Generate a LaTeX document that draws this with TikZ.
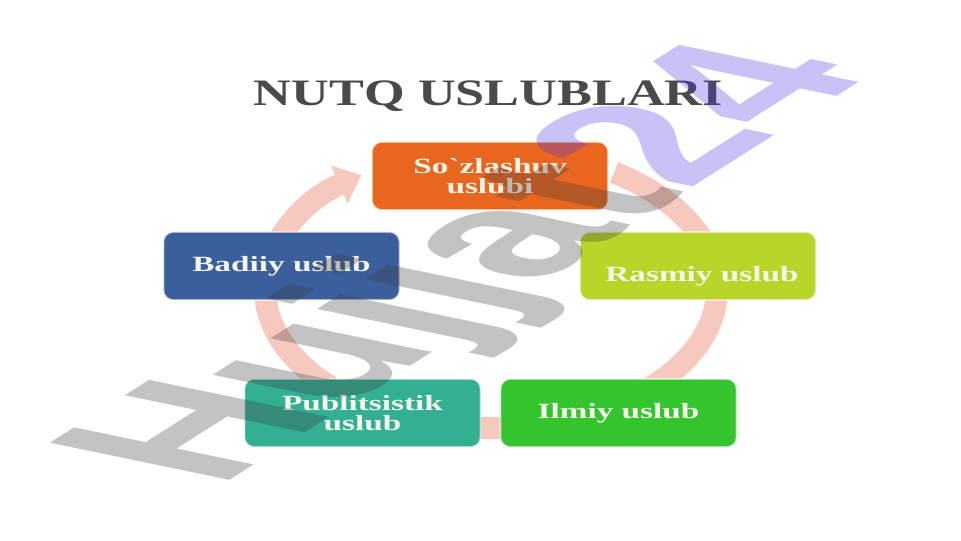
\documentclass[tikz,border=0pt]{standalone}
\usepackage{fontspec}
\setmainfont{Liberation Serif}
\newfontfamily\boxfont[FakeStretch=1.53,Ligatures=TeXOff]{Liberation Serif}
\newfontfamily\titlefont[FakeStretch=1.40]{Liberation Serif}
\newfontfamily\wmfont{Liberation Sans}
\usetikzlibrary{arrows.meta}
\definecolor{corange}{HTML}{E9661F}
\definecolor{cblue}{HTML}{3B5F9D}
\definecolor{cyg}{HTML}{B8D62A}
\definecolor{cteal}{HTML}{33AF93}
\definecolor{cgreen}{HTML}{34C42E}
\definecolor{boxtext}{HTML}{F5F5EA}
\definecolor{ringpink}{HTML}{F6C8BE}
\definecolor{titlegray}{HTML}{4A4A4A}
\definecolor{wmgray}{HTML}{3A3A3A}
\definecolor{wmlav}{HTML}{4B37E4}
\begin{document}
\begin{tikzpicture}[x=0.75pt,y=0.75pt,
  stylebox/.style={rounded corners=7.5pt, minimum width=177pt, minimum height=51pt,
    inner sep=0pt, draw=white, draw opacity=0.55, line width=1.2pt},
  boxtxt/.style={text=boxtext, font=\boxfont\bfseries\fontsize{16.3}{15}\selectfont, align=center, inner sep=0pt},
  ring/.style={ringpink, line width=16.5pt, -{Triangle[length=18pt,width=30pt]}}]
\useasboundingbox (0,0) rectangle (961,540);
\fill[white] (0,0) rectangle (961,540);

% title
\node[font=\titlefont\bfseries\fontsize{28}{30}\selectfont, text=titlegray] (title) at (488.5,444) {NUTQ USLUBLARI};

% cycle arrow
\coordinate (ringstart) at (614.1,367.6);
\draw[ring] (ringstart) arc[start angle=57, end angle=-235, x radius=169.5pt, y radius=104.25pt];

% boxes
\node[stylebox, fill=corange, boxtxt] (soz) at (490,364) {So`zlashuv\\uslubi};
\node[stylebox, fill=cblue, boxtxt] (badiiy) at (281.5,274) {Badiiy uslub};
\node[stylebox, fill=cyg] (rasmiy) at (698,274) {};
\node[boxtxt] (rasmiytext) at (702,264) {Rasmiy uslub};
\node[stylebox, fill=cteal, boxtxt] (publ) at (362.5,127) {Publitsistik\\uslub};
\node[stylebox, fill=cgreen, boxtxt] (ilmiy) at (618.5,127) {Ilmiy uslub};

% watermark
\begin{scope}[shift={(218,52)}, cm={1.2675,0.8025,-1.9575,0.405,(0,0)}]
\node[anchor=base west, inner sep=0pt, transform shape, text opacity=0.3,
  font=\wmfont\bfseries\fontsize{100}{100}\selectfont] (wm) at (0,0)
  {\textcolor{wmgray}{Hujjat}\textcolor{wmlav}{24}};
\end{scope}
\end{tikzpicture}
\end{document}
